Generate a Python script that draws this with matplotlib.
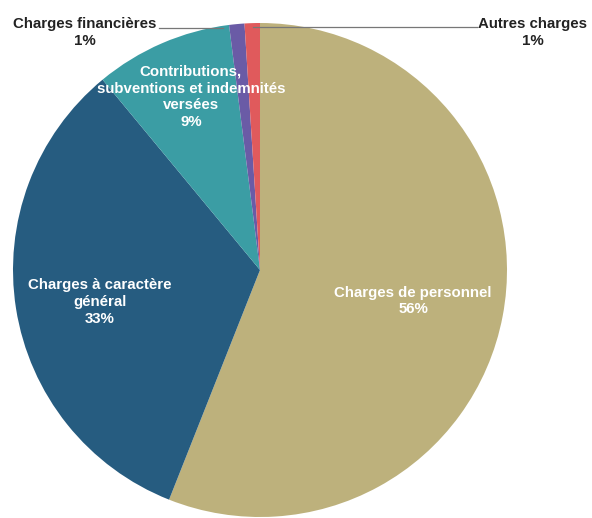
"""
Répartition des charges - camembert
"""

import matplotlib.pyplot as plt

labels = [
    "Charges de personnel",
    "Charges à caractère\ngénéral",
    "Contributions,\nsubventions et indemnités\nversées",
    "Charges financières",
    "Autres charges",
]
values = [56, 33, 9, 1, 1]
pct_labels = ["56%", "33%", "9%", "1%", "1%"]
colors = ["#BDB17C", "#265C80", "#3B9DA4", "#6A5BA6", "#E05A5C"]

plt.rcParams['font.family'] = ['Liberation Sans', 'DejaVu Sans']

fig = plt.figure(figsize=(5.92, 5.18), dpi=100)
# pie centre at (260, 270) px, radius ~247 px
W, H, R = 592, 518, 247
ax = fig.add_axes([(260 - R) / W, (H - 270 - R) / H, 2 * R / W, 2 * R / H])

wedges, _ = ax.pie(values, colors=colors, startangle=90, counterclock=False,
                   radius=1, center=(0, 0), frame=False,
                   wedgeprops=dict(linewidth=0))
ax.set_xlim(-1, 1)
ax.set_ylim(-1, 1)
ax.set_aspect('equal')
ax.axis('off')

# label centres for the big slices (axes data units, pie radius = 1)
inside_pos = {0: (0.62, -0.125), 1: (-0.648, -0.13), 2: (-0.28, 0.70)}
for i, (x, y) in inside_pos.items():
    ax.text(x, y, f"{labels[i]}\n{pct_labels[i]}",
            ha='center', va='center', color='white', fontsize=10.8,
            fontweight='bold', linespacing=1.25)

# small slices: labels outside with horizontal leader lines
y_line = 0.985
ax.text(-0.71, y_line + 0.04, f"{labels[3]}\n{pct_labels[3]}", ha='center',
        va='top', color='#222222', fontsize=10.8, fontweight='bold',
        linespacing=1.3, clip_on=False)
ax.plot([-0.41, -0.15], [y_line - 0.005, y_line - 0.005], color='#777777',
        lw=0.9, clip_on=False)
ax.text(1.105, y_line + 0.04, f"{labels[4]}\n{pct_labels[4]}", ha='center',
        va='top', color='#222222', fontsize=10.8, fontweight='bold',
        linespacing=1.3, clip_on=False)
ax.plot([-0.03, 0.88], [y_line, y_line], color='#777777', lw=0.9,
        clip_on=False)

fig.savefig("out.png", dpi=100)
